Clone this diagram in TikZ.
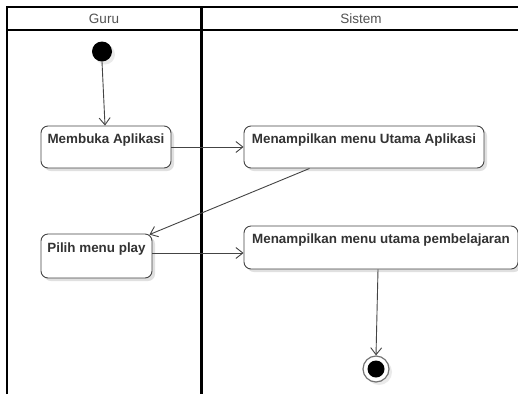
\documentclass[tikz,border=0pt]{standalone}
\usepackage{fontspec}
\setmainfont{Liberation Sans}
\usetikzlibrary{shadows,arrows.meta}
\definecolor{edge}{HTML}{444444}
\definecolor{ink}{HTML}{333333}
\tikzset{
  lane/.style={line width=2.4pt, black},
  lanehead/.style={font=\fontsize{13.5}{15}\selectfont, text=ink!85},
  actbox/.style={draw=edge, line width=0.9pt, fill=white, rounded corners=7pt,
    inner xsep=4pt, inner ysep=3pt, text height=14pt, text depth=22pt,
    font=\bfseries\fontsize{13.4}{15}\selectfont, text=ink,
    drop shadow={shadow xshift=3pt, shadow yshift=-3pt, fill=black!40, opacity=0.3}},
  startnode/.style={circle, fill=black, minimum size=20pt, inner sep=0pt,
    drop shadow={shadow xshift=3pt, shadow yshift=-3pt, fill=black!40, opacity=0.2}},
  endnode/.style={circle, draw=black!55, line width=1.2pt, fill=white, minimum size=26pt, inner sep=0pt,
    drop shadow={shadow xshift=3pt, shadow yshift=-3pt, fill=black!40, opacity=0.2}},
  flow/.style={draw=edge, line width=0.9pt, -{Straight Barb[length=7pt, width=11pt]}},
}
\begin{document}
\begin{tikzpicture}[x=1pt, y=-1pt]
  \useasboundingbox[fill=white] (0,0) rectangle (518,394);

  % swimlane frame
  \draw[lane] (7,394) -- (7,7) -- (518,7);
  \draw[lane] (7,30) -- (518,30);
  \draw[lane, line width=3pt] (201,7) -- (201,394);
  \node[lanehead] (hguru) at (104,19) {Guru};
  \node[lanehead] (hsistem) at (361,19) {Sistem};

  % activities
  \node[startnode] (start) at (102,51.5) {};
  \node[actbox, minimum width=130pt, minimum height=42pt] (buka) at (106,147) {Membuka Aplikasi};
  \node[actbox, minimum width=240pt, minimum height=42pt] (utama) at (364,147) {Menampilkan menu Utama Aplikasi};
  \node[actbox, minimum width=111pt, minimum height=44pt] (pilih) at (96.5,256) {Pilih menu play};
  \node[actbox, minimum width=274pt, minimum height=43pt] (belajar) at (381,247.5) {Menampilkan menu utama pembelajaran};
  \node[endnode] (stop) at (376,369) {};
  \fill[black] (stop.center) circle (8.5pt);

  % control flow
  \draw[flow] (start.south) -- ([xshift=-1pt]buka.north);
  \draw[flow] (buka.east) -- (utama.west);
  \draw[flow] ([xshift=66pt]utama.south west) -- ([xshift=-3pt,yshift=-1pt]pilih.north east);
  \draw[flow] ([yshift=3pt]pilih.east) -- ([yshift=3pt]pilih.east -| belajar.west);
  \draw[flow] ([xshift=-3pt]belajar.south) -- (stop.north);
\end{tikzpicture}
\end{document}
